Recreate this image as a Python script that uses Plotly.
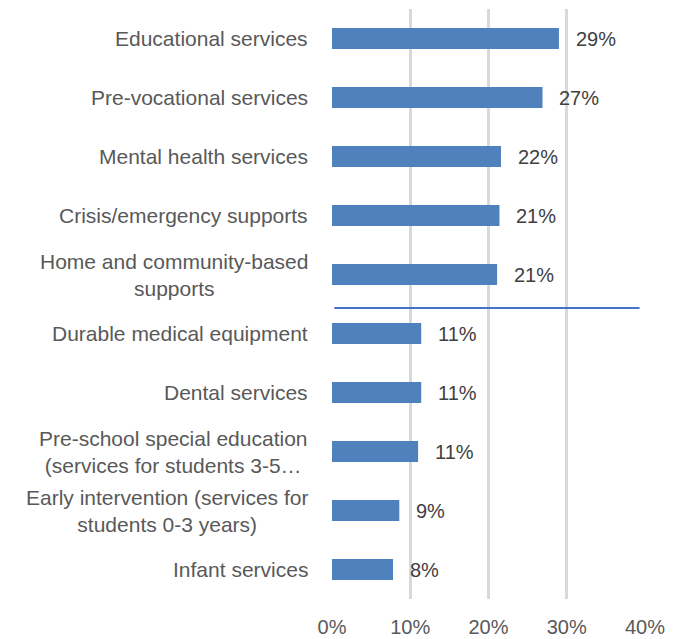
import plotly.graph_objects as go

categories = [
    "Educational services",
    "Pre-vocational services",
    "Mental health services",
    "Crisis/emergency supports",
    "Home and community-based<br>supports",
    "Durable medical equipment",
    "Dental services",
    "Pre-school special education<br>(services for students 3-5…",
    "Early intervention (services for<br>students 0-3 years)",
    "Infant services",
]
values = [0.290, 0.269, 0.216, 0.214, 0.211, 0.114, 0.114, 0.110, 0.086, 0.078]
tick_vals = [0, 0.1, 0.2, 0.3, 0.4]
tick_text = ["0%", "10%", "20%", "30%", "40%"]

FONT = "Liberation Sans"
BAR = "#4F81BD"

fig = go.Figure(go.Bar(
    x=values, y=categories, orientation="h",
    marker=dict(color=BAR, line=dict(width=0)),
    hoverinfo="skip",
))

annotations = []
for c, v in zip(categories, values):
    annotations.append(dict(
        x=v, y=c, xref="x", yref="y", text=f"{round(v*100)}%",
        showarrow=False, xanchor="left", xshift=15,
        font=dict(family=FONT, size=20, color="#404040"),
    ))
    annotations.append(dict(
        x=0, y=c, xref="paper", yref="y", text=c,
        showarrow=False, xanchor="right", align="center", xshift=-22,
        font=dict(family=FONT, size=21, color="#595959"),
    ))

# page body has an 8px default margin; margins compensate for it
fig.update_layout(
    width=674, height=639,
    margin=dict(l=324, r=37, t=1, b=48, autoexpand=False),
    paper_bgcolor="white", plot_bgcolor="white",
    bargap=0.64, showlegend=False,
    annotations=annotations,
    xaxis=dict(
        range=[0, 0.4], tickvals=tick_vals, ticktext=tick_text,
        showgrid=True, gridcolor="#D9D9D9", gridwidth=3,
        zeroline=False, showline=False, ticks="",
        tickfont=dict(family=FONT, size=20, color="#595959"),
        ticklabelstandoff=14, fixedrange=True, automargin=False,
    ),
    yaxis=dict(
        categoryorder="array", categoryarray=categories,
        autorange="reversed", showticklabels=False, automargin=False,
        showgrid=False, zeroline=False, showline=False, ticks="",
    ),
    shapes=[dict(
        type="line", xref="x", yref="y",
        x0=0.003, x1=0.393, y0=4.567, y1=4.567,
        line=dict(color="#4472C4", width=2),
    )],
)

fig.write_html("out.html")
